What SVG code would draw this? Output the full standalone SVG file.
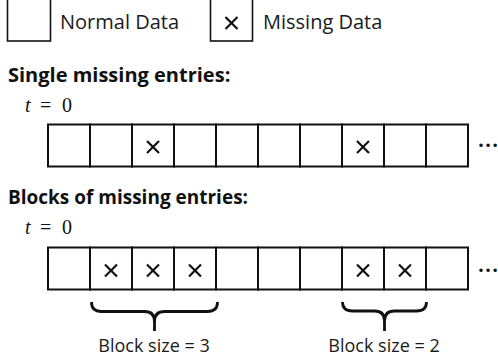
<svg xmlns="http://www.w3.org/2000/svg" width="498" height="364" viewBox="0 0 498 364">
  <style>
    .cell { fill: #ffffff; stroke: #111111; stroke-width: 2; }
    .key { fill: #ffffff; stroke: #111111; stroke-width: 1.6; }
    .mark { stroke: #111111; stroke-width: 2.2; stroke-linecap: butt; fill: none; }
    .brace { stroke: #111111; stroke-width: 2.8; fill: none; stroke-linecap: butt; }
    .label { font-family: "Open Sans", "Noto Sans", sans-serif; fill: #1a1a1a; }
    .head { font-family: "Open Sans", "Noto Sans", sans-serif; font-weight: bold; fill: #111111; font-size: 20px; }
    .math { font-family: "Liberation Serif", "DejaVu Serif", serif; fill: #111111; font-size: 20px; }
    .dots { font-family: "Liberation Serif", serif; font-weight: bold; fill: #111111; font-size: 21px; }
  </style>
  <defs>
    <!-- cross used for missing entries, centred on origin -->
    <g id="x">
      <line class="mark" x1="-6" y1="-6" x2="6" y2="6"/>
      <line class="mark" x1="-6" y1="6" x2="6" y2="-6"/>
    </g>
  </defs>

  <!-- legend -->
  <g id="legend-normal">
    <rect class="key" x="7.5" y="-2" width="43" height="43"/>
    <text class="label" x="60" y="28.5" font-size="20">Normal Data</text>
  </g>
  <g id="legend-missing">
    <rect class="key" x="210.5" y="-2" width="42" height="43"/>
    <use href="#x" x="231.5" y="23"/>
    <text class="label" x="263" y="28.5" font-size="20">Missing Data</text>
  </g>

  <!-- section 1: single missing entries -->
  <g id="heading-single">
    <text class="head" x="8" y="81.5">Single missing entries:</text>
    <text class="math" x="25" y="111.5" font-style="italic">t</text>
    <text class="math" x="40" y="111.5">=</text>
    <text class="math" x="62" y="111.5">0</text>
  </g>
  <g id="row-single">
    <rect class="cell" x="48" y="124.5" width="42" height="42"/>
    <rect class="cell" x="90" y="124.5" width="42" height="42"/>
    <rect class="cell" x="132" y="124.5" width="42" height="42"/>
    <rect class="cell" x="174" y="124.5" width="42" height="42"/>
    <rect class="cell" x="216" y="124.5" width="42" height="42"/>
    <rect class="cell" x="258" y="124.5" width="42" height="42"/>
    <rect class="cell" x="300" y="124.5" width="42" height="42"/>
    <rect class="cell" x="342" y="124.5" width="42" height="42"/>
    <rect class="cell" x="384" y="124.5" width="42" height="42"/>
    <rect class="cell" x="426" y="124.5" width="42" height="42"/>
    <use href="#x" x="153" y="147"/>
    <use href="#x" x="363" y="147"/>
    <text class="dots" x="477.5" y="147">…</text>
  </g>

  <!-- section 2: blocks of missing entries -->
  <g id="heading-blocks">
    <text class="head" x="8" y="203.5" textLength="240" lengthAdjust="spacingAndGlyphs">Blocks of missing entries:</text>
    <text class="math" x="25" y="233.5" font-style="italic">t</text>
    <text class="math" x="40" y="233.5">=</text>
    <text class="math" x="62" y="233.5">0</text>
  </g>
  <g id="row-blocks">
    <rect class="cell" x="48" y="247.5" width="42" height="42"/>
    <rect class="cell" x="90" y="247.5" width="42" height="42"/>
    <rect class="cell" x="132" y="247.5" width="42" height="42"/>
    <rect class="cell" x="174" y="247.5" width="42" height="42"/>
    <rect class="cell" x="216" y="247.5" width="42" height="42"/>
    <rect class="cell" x="258" y="247.5" width="42" height="42"/>
    <rect class="cell" x="300" y="247.5" width="42" height="42"/>
    <rect class="cell" x="342" y="247.5" width="42" height="42"/>
    <rect class="cell" x="384" y="247.5" width="42" height="42"/>
    <rect class="cell" x="426" y="247.5" width="42" height="42"/>
    <use href="#x" x="111" y="270.5"/>
    <use href="#x" x="153" y="270.5"/>
    <use href="#x" x="195" y="270.5"/>
    <use href="#x" x="363" y="270.5"/>
    <use href="#x" x="405" y="270.5"/>
    <text class="dots" x="477.5" y="272">…</text>
  </g>

  <!-- braces under the missing blocks -->
  <g id="connectors">
    <path class="brace" d="M91.5,302 Q91.5,311.5 101.5,311.5 L144.5,311.5 Q154.5,311.5 154.5,321.5 L154.5,331 M154.5,321.5 Q154.5,311.5 164.5,311.5 L207.5,311.5 Q217.5,311.5 217.5,302"/>
    <path class="brace" d="M342.5,302 Q342.5,311 352.5,311 L374.5,311 Q384.5,311 384.5,321 L384.5,331 M384.5,321 Q384.5,311 394.5,311 L416.5,311 Q426.5,311 426.5,302"/>
  </g>
  <g id="label-block-3">
    <text class="label" x="154" y="352" font-size="18" text-anchor="middle">Block size = 3</text>
  </g>
  <g id="label-block-2">
    <text class="label" x="384" y="352" font-size="18" text-anchor="middle">Block size = 2</text>
  </g>
</svg>
